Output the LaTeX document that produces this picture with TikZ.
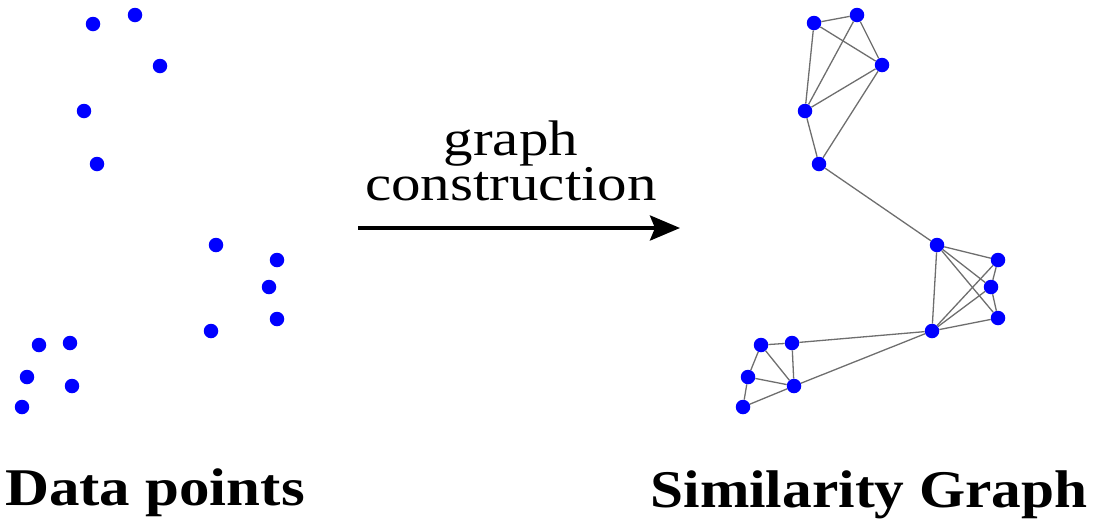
\documentclass[tikz,border=0pt]{standalone}
\usepackage{fontspec}
\setmainfont{Liberation Serif}
\usetikzlibrary{arrows.meta}
\definecolor{dotblue}{RGB}{0,0,255}
\definecolor{edgegray}{RGB}{110,110,110}
\tikzset{
  pt/.style={circle,fill=dotblue,draw=none,inner sep=0pt,minimum size=14.5pt},
  edge/.style={draw=edgegray,line width=1.3pt},
  caption/.style={inner sep=0pt,anchor=base,font=\fontsize{53}{60}\bfseries\selectfont},
  lbl/.style={inner sep=0pt,anchor=base,align=center,font=\fontsize{50}{43}\selectfont},
  bigarrow/.style={line width=4pt,-{Stealth[length=30pt,width=25pt,inset=5pt]}}
}
\begin{document}
\begin{tikzpicture}[x=1pt,y=-1pt]
\useasboundingbox (0,0) rectangle (1096,528);
% left data points
\node[pt] (p1) at (93,24) {};
\node[pt] (p2) at (135,15) {};
\node[pt] (p3) at (160,66) {};
\node[pt] (p4) at (84,111) {};
\node[pt] (p5) at (97,164) {};
\node[pt] (p6) at (216,245) {};
\node[pt] (p7) at (277,260) {};
\node[pt] (p8) at (269,287) {};
\node[pt] (p9) at (277,319) {};
\node[pt] (p10) at (211,331) {};
\node[pt] (p11) at (39,345) {};
\node[pt] (p12) at (70,343) {};
\node[pt] (p13) at (27,377) {};
\node[pt] (p14) at (72,386) {};
\node[pt] (p15) at (22,407) {};
% right graph
\node[pt] (A) at (814,23) {};
\node[pt] (B) at (857,15) {};
\node[pt] (C) at (882,65) {};
\node[pt] (D) at (805,111) {};
\node[pt] (E) at (819,164) {};
\node[pt] (F) at (937,245) {};
\node[pt] (G) at (998,260) {};
\node[pt] (H) at (991,287) {};
\node[pt] (I) at (998,318) {};
\node[pt] (J) at (932,331) {};
\node[pt] (K) at (761,345) {};
\node[pt] (L) at (792,343) {};
\node[pt] (M) at (748,377) {};
\node[pt] (N) at (794,386) {};
\node[pt] (O) at (743,407) {};
\foreach \a/\b in {A/B,A/C,A/D,B/C,B/D,C/D,C/E,D/E,E/F,
                   F/G,F/H,F/I,F/J,G/H,H/I,G/J,H/J,I/J,
                   K/L,K/M,K/N,L/N,M/N,M/O,N/O,L/J,N/J}
  \draw[edge] (\a) -- (\b);
% arrow and label
\coordinate (as) at (358,228);
\coordinate (ae) at (680,228);
\draw[bigarrow] (as) -- (ae);
\node[lbl] (l1) at (511,200) {\scalebox{1.18}[1]{graph}\\\scalebox{1.18}[1]{construction}};
% captions
\node[caption] (c1) at (155,505) {\scalebox{1.15}[1]{Data points}};
\node[caption] (c2) at (869,507) {\scalebox{1.12}[1]{Similarity Graph}};
\end{tikzpicture}
\end{document}
